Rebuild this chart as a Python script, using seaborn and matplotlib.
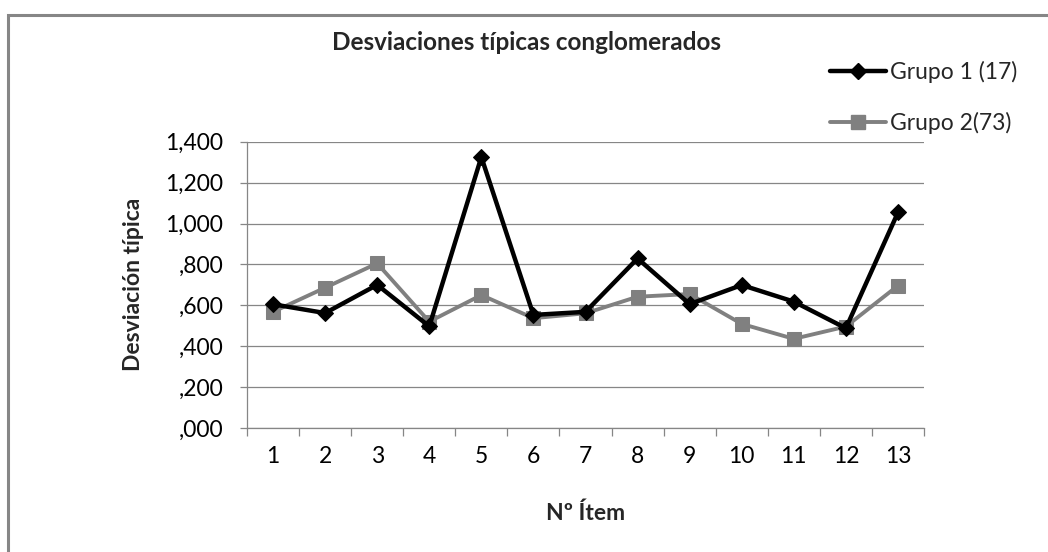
import matplotlib
matplotlib.use('Agg')
import matplotlib.pyplot as plt
import seaborn as sns
import pandas as pd
from matplotlib.lines import Line2D
from matplotlib.patches import Rectangle
from matplotlib.ticker import FixedLocator, FuncFormatter

# datos
items = list(range(1, 14))
grupo1 = [0.605, 0.562, 0.700, 0.497, 1.325, 0.553, 0.568, 0.829, 0.606, 0.699, 0.618, 0.488, 1.054]
grupo2 = [0.568, 0.686, 0.805, 0.520, 0.650, 0.537, 0.561, 0.642, 0.655, 0.509, 0.436, 0.496, 0.696]
etiquetas = ['Grupo 1 (17)', 'Grupo 2(73)']
yticks = [0.0, 0.2, 0.4, 0.6, 0.8, 1.0, 1.2, 1.4]

sns.set_theme(style='white')
plt.rcParams['font.family'] = ['Lato', 'DejaVu Sans']

df = pd.DataFrame({'item': items, 'g1': grupo1, 'g2': grupo2})

fig = plt.figure(figsize=(10.48, 5.52), dpi=100)
ax = fig.add_axes([247/1048, 1 - 428/552, 677/1048, (428 - 141.7)/552])

gris = '#868686'
c1 = 'black'
c2 = '#808080'
fs = 16.5

sns.lineplot(data=df, x='item', y='g1', ax=ax, color=c1, lw=3.2,
             marker='D', markersize=8, markeredgecolor=c1, zorder=4)
sns.lineplot(data=df, x='item', y='g2', ax=ax, color=c2, lw=2.8,
             marker='s', markersize=10.5, markeredgecolor=c2, zorder=3)

ax.set_xlim(0.5, 13.5)
ax.set_ylim(0, 1.4)
ax.set_yticks(yticks)
ax.yaxis.set_major_formatter(FuncFormatter(
    lambda v, p: ('%.3f' % v).replace('.', ',').lstrip('0') if v < 1 else ('%.3f' % v).replace('.', ',')))
ax.set_xticks(items)
ax.set_xticklabels([str(i) for i in items])
ax.xaxis.set_minor_locator(FixedLocator([i + 0.5 for i in range(0, 14)]))

ax.grid(axis='y', color=gris, lw=0.9)
ax.set_axisbelow(True)
for s in ['top', 'right']:
    ax.spines[s].set_visible(False)
for s in ['left', 'bottom']:
    ax.spines[s].set_color(gris)
    ax.spines[s].set_linewidth(0.9)

ax.tick_params(axis='x', which='major', length=0, pad=13, labelsize=fs, labelcolor='black')
ax.tick_params(axis='x', which='minor', length=6, width=0.9, color=gris, direction='out', bottom=True)
ax.tick_params(axis='y', which='major', length=5, width=0.9, color=gris, direction='out',
               left=True, pad=12, labelsize=fs, labelcolor='black')

ax.set_xlabel('Nº Ítem', fontsize=fs, fontweight='bold', va='center')
ax.set_ylabel('Desviación típica', fontsize=fs, fontweight='bold', va='center')
ax.xaxis.set_label_coords(0.5, -(513 - 428) / 286.3)
ax.yaxis.set_label_coords(-(247 - 133) / 677, 0.5)

fig.text(527/1048, 1 - 43/552, 'Desviaciones típicas conglomerados',
         ha='center', va='center', fontsize=17.5, fontweight='bold')

handles = [Line2D([], [], color=c1, lw=3.2, marker='D', markersize=8),
           Line2D([], [], color=c2, lw=2.8, marker='s', markersize=10.5)]
fig.legend(handles, etiquetas, loc='upper left', bbox_to_anchor=(830/1048, 1 - 61/552),
           frameon=False, fontsize=fs, handlelength=2.45, handletextpad=0.15,
           labelspacing=1.25, borderpad=0, borderaxespad=0)

# marco exterior
fig.patches.append(Rectangle((8/1048, -0.1), 1.2, 0.1 + 1 - 15/552, transform=fig.transFigure,
                             fill=False, edgecolor=gris, lw=2.2, clip_on=False))

fig.savefig('out.png', dpi=100)
